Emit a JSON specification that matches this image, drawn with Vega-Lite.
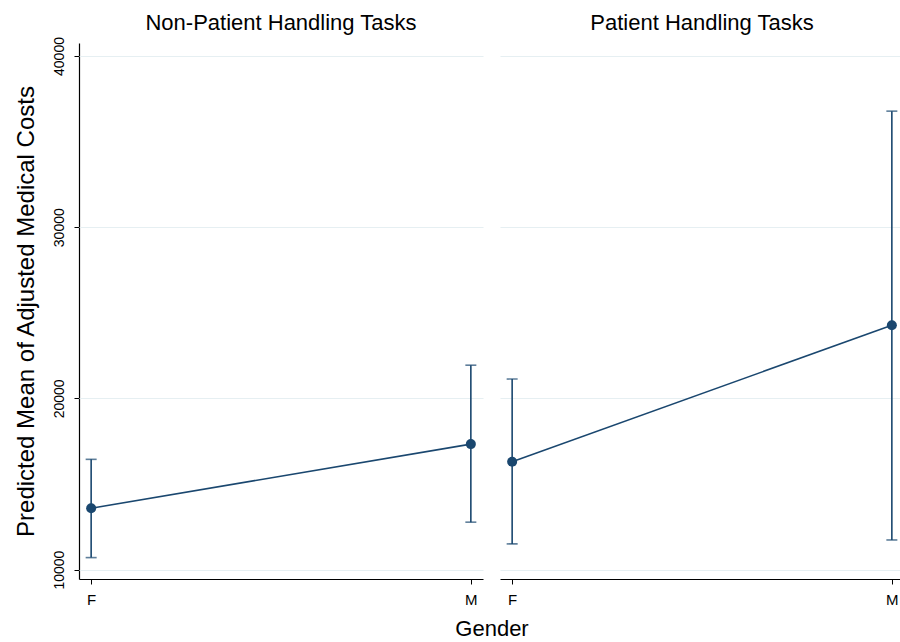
{
  "$schema": "https://vega.github.io/schema/vega-lite/v6.json",
  "background": "white",
  "padding": {"left": 14, "top": 12, "right": 0, "bottom": 0},
  "data": {
    "values": [
      {"task": "Non-Patient Handling Tasks", "gender": "F", "mean": 13580, "lo": 10700, "hi": 16440},
      {"task": "Non-Patient Handling Tasks", "gender": "M", "mean": 17330, "lo": 12770, "hi": 21940},
      {"task": "Patient Handling Tasks", "gender": "F", "mean": 16300, "lo": 11500, "hi": 21130},
      {"task": "Patient Handling Tasks", "gender": "M", "mean": 24270, "lo": 11730, "hi": 36780}
    ]
  },
  "spacing": 17,
  "facet": {
    "column": {
      "field": "task",
      "type": "nominal",
      "sort": ["Non-Patient Handling Tasks", "Patient Handling Tasks"],
      "header": {
        "title": "Gender",
        "titleOrient": "bottom",
        "labelOrient": "top",
        "labelFont": "Liberation Sans",
        "labelFontSize": 22,
        "labelColor": "black",
        "labelPadding": 8,
        "titleFont": "Liberation Sans",
        "titleFontSize": 22,
        "titleFontWeight": "normal",
        "titleColor": "black",
        "titlePadding": 2
      }
    }
  },
  "spec": {
    "width": 404,
    "height": 536,
    "encoding": {
      "x": {
        "field": "gender",
        "type": "nominal",
        "scale": {"type": "point", "padding": 0.032},
        "axis": {"title": null, "labelAngle": 0, "labelFontSize": 15, "labelPadding": 8, "grid": false, "tickSize": 5}
      }
    },
    "layer": [
      {
        "mark": {"type": "rule", "color": "#1a476f", "strokeWidth": 1.6},
        "encoding": {
          "y": {
            "field": "lo",
            "type": "quantitative",
            "scale": {"domain": [9450, 40760], "nice": false, "zero": false},
            "title": "Predicted Mean of Adjusted Medical Costs",
            "axis": {
              "values": [10000, 20000, 30000, 40000],
              "format": "d",
              "grid": true,
              "gridColor": "#e6eff2",
              "gridWidth": 1.2
            }
          },
          "y2": {"field": "hi"}
        }
      },
      {
        "mark": {"type": "tick", "color": "#1a476f", "size": 11, "thickness": 1.6},
        "encoding": {"y": {"field": "lo", "type": "quantitative", "title": "Predicted Mean of Adjusted Medical Costs"}}
      },
      {
        "mark": {"type": "tick", "color": "#1a476f", "size": 11, "thickness": 1.6},
        "encoding": {"y": {"field": "hi", "type": "quantitative", "title": "Predicted Mean of Adjusted Medical Costs"}}
      },
      {
        "mark": {"type": "line", "color": "#1a476f", "strokeWidth": 1.6},
        "encoding": {"y": {"field": "mean", "type": "quantitative", "title": "Predicted Mean of Adjusted Medical Costs"}}
      },
      {
        "mark": {"type": "point", "filled": true, "color": "#1a476f", "opacity": 1, "size": 100},
        "encoding": {"y": {"field": "mean", "type": "quantitative", "title": "Predicted Mean of Adjusted Medical Costs"}}
      }
    ]
  },
  "config": {
    "view": {"stroke": null},
    "font": "Liberation Sans",
    "axis": {
      "domainColor": "black",
      "domainWidth": 1.2,
      "tickColor": "black",
      "labelColor": "black",
      "titleColor": "black",
      "labelFont": "Liberation Sans",
      "titleFont": "Liberation Sans",
      "titleFontWeight": "normal"
    },
    "axisY": {
      "labelAngle": 270,
      "labelAlign": "center",
      "labelBaseline": "bottom",
      "labelFontSize": 14,
      "labelPadding": 8,
      "tickSize": 5,
      "titleFontSize": 24,
      "titlePadding": 14
    }
  }
}
